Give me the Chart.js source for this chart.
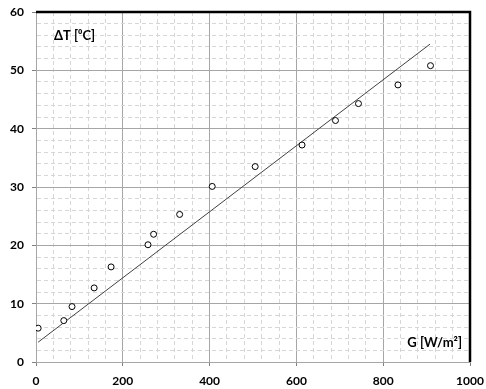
<!DOCTYPE html>
<html>
<head>
<meta charset="utf-8">
<script src="https://cdn.jsdelivr.net/npm/chart.js@4"></script>
<style>
  html, body { margin: 0; padding: 0; background: #fff; }
  #wrap { width: 486px; height: 389px; position: relative; }
</style>
</head>
<body>
<div id="wrap"><canvas id="chart" width="486" height="389"></canvas></div>
<script>
// measured points, G [W/m2] vs delta T [C]
const irradiance = [5, 64, 83, 134, 173, 258, 271, 331, 406, 505, 613, 690, 743, 834, 909];
const deltaT = [5.8, 7.1, 9.5, 12.7, 16.3, 20.1, 21.9, 25.3, 30.1, 33.5, 37.2, 41.4, 44.3, 47.5, 50.8];

// linear trend line endpoints
const fitX = [5, 908];
const fitY = [3.4, 54.5];

const xMax = 1000;
const yMax = 60;
const xMajor = 200, xMinor = 40;
const yMajor = 10, yMinor = 2;

const labelFont = { family: 'Lato', size: 12, weight: 'bold' };

function isMajor(v, step) {
  return Math.abs(v / step - Math.round(v / step)) < 1e-6;
}

const pointsData = irradiance.map((g, i) => ({ x: g, y: deltaT[i] }));
const fitData = fitX.map((g, i) => ({ x: g, y: fitY[i] }));

const framePlugin = {
  id: 'frame',
  afterDraw(chart) {
    const { ctx, chartArea: a } = chart;
    ctx.save();
    ctx.strokeStyle = '#000';
    ctx.lineWidth = 2.5;
    ctx.beginPath();
    ctx.moveTo(a.left, a.top);
    ctx.lineTo(a.right, a.top);
    ctx.lineTo(a.right, a.bottom);
    ctx.stroke();

    ctx.fillStyle = '#000';
    ctx.font = 'bold 13px Lato';
    ctx.textBaseline = 'middle';
    ctx.textAlign = 'left';
    ctx.fillText('\u0394T [\u2070C]', a.left + 18, a.top + 24);
    ctx.textAlign = 'right';
    ctx.fillText('G [W/m\u00b2]', a.right - 8, a.bottom - 19);
    ctx.restore();
  }
};

function gridColor(step) {
  return ctx => isMajor(ctx.tick.value, step) ? '#a6a6a6' : '#d6d6d6';
}
function gridDash(step) {
  return ctx => (ctx.tick && isMajor(ctx.tick.value, step)) ? [] : [4, 3];
}
function tickColor(step) {
  return ctx => isMajor(ctx.tick.value, step) ? '#808080' : 'rgba(0,0,0,0)';
}

new Chart(document.getElementById('chart'), {
  type: 'scatter',
  data: {
    datasets: [{
      label: 'measured',
      data: pointsData,
      pointStyle: 'circle',
      pointRadius: 3,
      pointBorderWidth: 1,
      pointBorderColor: '#000',
      pointBackgroundColor: '#fff',
      order: 1
    }, {
      label: 'fit',
      type: 'line',
      data: fitData,
      borderColor: '#404040',
      borderWidth: 1,
      pointRadius: 0,
      fill: false,
      order: 2
    }]
  },
  options: {
    responsive: false,
    animation: false,
    layout: { padding: { top: 12, right: 16, left: 0, bottom: 0 } },
    plugins: {
      legend: { display: false },
      tooltip: { enabled: false }
    },
    scales: {
      x: {
        type: 'linear',
        min: 0,
        max: xMax,
        afterFit: s => { s.height = 27; s.paddingLeft = 0; s.paddingRight = 0; },
        ticks: {
          stepSize: xMinor,
          autoSkip: false,
          maxRotation: 0,
          padding: 8,
          color: '#000',
          font: labelFont,
          callback: v => isMajor(v, xMajor) ? v : ''
        },
        grid: {
          color: gridColor(xMajor),
          lineWidth: 1,
          tickLength: 4,
          tickColor: tickColor(xMajor)
        },
        border: { display: true, color: '#a6a6a6', dash: gridDash(xMajor) }
      },
      y: {
        type: 'linear',
        min: 0,
        max: yMax,
        afterFit: s => { s.width = 36; s.paddingTop = 0; s.paddingBottom = 0; },
        ticks: {
          stepSize: yMinor,
          autoSkip: false,
          padding: 8,
          color: '#000',
          font: labelFont,
          callback: v => isMajor(v, yMajor) ? v : ''
        },
        grid: {
          color: gridColor(yMajor),
          lineWidth: 1,
          tickLength: 4,
          tickColor: tickColor(yMajor)
        },
        border: { display: true, color: '#a6a6a6', dash: gridDash(yMajor) }
      }
    }
  },
  plugins: [framePlugin]
});
</script>
</body>
</html>
